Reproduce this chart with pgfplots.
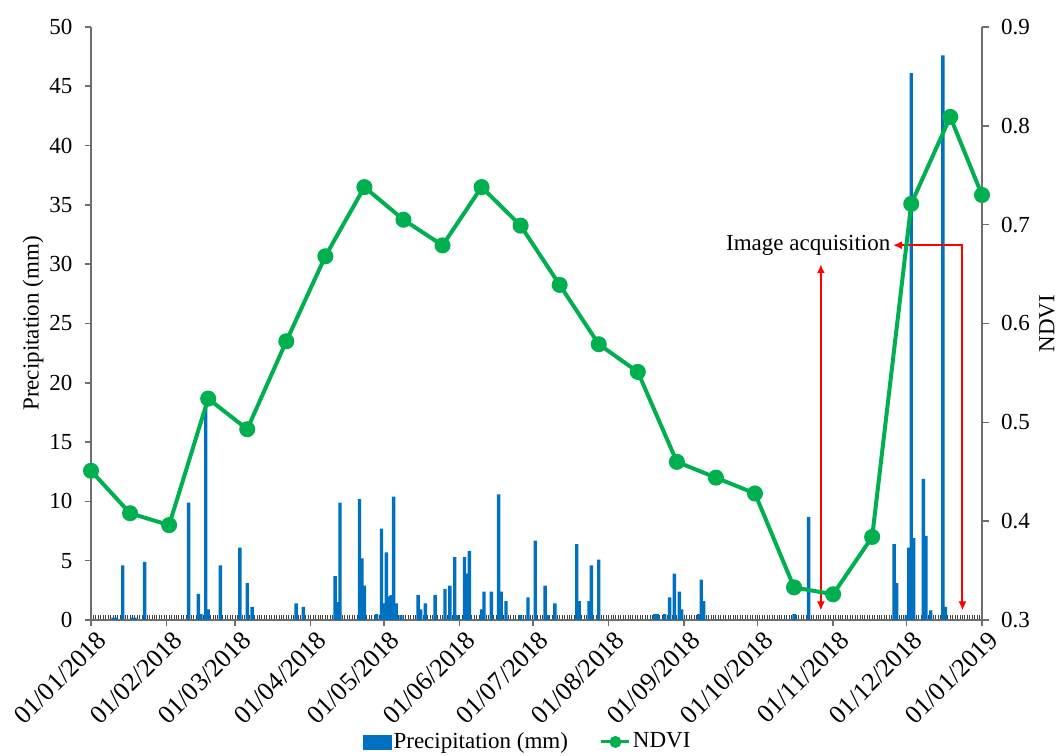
\documentclass[border=0pt]{standalone}
\usepackage{pgfplots}
\pgfplotsset{compat=1.18}
\usepackage{pgfplotstable}
\usepackage{fontspec}
\setmainfont{Liberation Serif}
\usetikzlibrary{arrows.meta}

\definecolor{rainblue}{RGB}{0,112,192}
\definecolor{ndvigreen}{RGB}{0,176,80}
\definecolor{axisgray}{RGB}{110,110,110}

% daily precipitation, x = day of year (0 = 01/01/2018)
\pgfplotstableread{
day mm
9   0.2
10  0.2
13  4.6
17  0.2
18  0.2
22  4.9
40  9.9
44  2.2
45  0.5
47  18.5
48  0.9
53  4.6
61  6.1
64  3.1
66  1.1
84  1.4
87  1.1
100 3.7
101 1.5
102 9.9
110 10.2
111 5.2
112 2.9
117 0.5
119 7.7
120 1.4
121 5.7
122 2.0
123 2.1
124 10.4
125 1.4
127 0.4
134 2.1
135 0.9
137 1.4
141 2.1
145 2.6
147 2.9
149 5.3
150 0.4
153 5.3
154 3.9
155 5.8
160 0.9
161 2.4
164 2.4
167 10.6
168 2.4
170 1.6
176 0.4
179 1.9
182 6.7
186 2.9
187 0.4
190 1.4
199 6.4
200 1.6
204 1.6
205 4.6
208 5.1
231 0.5
232 0.5
235 0.5
237 1.9
239 3.9
241 2.4
242 0.9
249 0.5
250 3.4
251 1.6
288 0.5
294 8.7
329 6.4
330 3.1
334 0.4
335 6.1
336 46.1
337 6.9
341 11.9
342 7.1
344 0.8
349 47.6
350 1.1
}\rain

% NDVI composites
\pgfplotstableread{
day ndvi
0   0.451
16  0.408
32  0.396
48  0.524
64  0.493
80  0.582
96  0.668
112 0.738
128 0.705
144 0.679
160 0.738
176 0.699
192 0.639
208 0.579
224 0.551
240 0.460
256 0.444
272 0.428
288 0.333
304 0.326
320 0.384
336 0.721
352 0.809
365 0.730
}\ndvi

\pgfplotsset{
  twin/.style={
    scale only axis, width=445.5pt, height=296.5pt,
    xmin=0, xmax=365,
    /pgf/number format/assume math mode=true,
    tick label style={font=\fontsize{11.5}{13}\selectfont},
    label style={font=\fontsize{11.5}{13}\selectfont},
    axis line style={axisgray, line width=0.8pt},
    tick style={axisgray, line width=0.8pt},
    major tick length=2.8pt,
    tick align=outside,
  }
}

\begin{document}
\begin{tikzpicture}
% daily hatch along the baseline
\begin{axis}[twin,
  hide y axis, axis x line*=bottom,
  axis line style={draw=none},
  ymin=0, ymax=1,
  xtick={0,...,365}, xticklabel=\empty,
  tick align=inside, major tick length=2.6pt,
  tick style={black!75, line width=0.45pt},
]
\end{axis}

% precipitation bars on the left axis
\begin{axis}[twin,
  axis y line*=left, axis x line*=bottom,
  ymin=0, ymax=50, ytick={0,5,...,50},
  yticklabel style={xshift=-3pt},
  xtick={0,31,59,90,120,151,181,212,243,273,304,334,365},
  xticklabels={01/01/2018,01/02/2018,01/03/2018,01/04/2018,01/05/2018,01/06/2018,01/07/2018,01/08/2018,01/09/2018,01/10/2018,01/11/2018,01/12/2018,01/01/2019},
  xticklabel style={rotate=45, anchor=north east, inner sep=1pt, xshift=1.5pt, yshift=-2pt,
    font=\fontsize{13}{15}\selectfont},
  ylabel={Precipitation (mm)},
  ylabel style={at={(axis description cs:-0.065,0.5)}, anchor=center},
]
\addplot[ybar, bar width=1.4, fill=rainblue, draw=none] table[x=day, y=mm] {\rain};
% acquisition dates
\node[anchor=east, inner sep=0.5pt, font=\fontsize{11.5}{13}\selectfont] at (axis cs:328,31.6) {Image acquisition};
\draw[red, line width=1pt, {Latex[length=4.5pt,width=4pt]}-{Latex[length=4.5pt,width=4pt]}]
  (axis cs:299,30.0) -- (axis cs:299,0.8);
\draw[red, line width=1pt, {Latex[length=4.5pt,width=4pt]}-{Latex[length=4.5pt,width=4pt]}]
  (axis cs:328.5,31.6) -- (axis cs:357,31.6) -- (axis cs:357,0.8);
\end{axis}

% NDVI on the right axis
\begin{axis}[twin,
  axis y line*=right, axis x line=none,
  major tick length=3.5pt,
  ymin=0.3, ymax=0.9, ytick={0.3,0.4,0.5,0.6,0.7,0.8,0.9},
  yticklabel style={xshift=2.5pt, /pgf/number format/.cd, fixed, fixed zerofill, precision=1},
  ylabel={NDVI},
  ylabel style={at={(axis description cs:1.073,0.5)}, anchor=center},
  legend style={at={(0.49,-0.2057)}, anchor=center, draw=none, fill=none,
    legend columns=2, font=\fontsize{11.5}{13}\selectfont,
    /tikz/every even column/.append style={column sep=15pt},
    inner sep=0pt, nodes={inner sep=1pt}},
]
\addlegendimage{legend image code/.code={\fill[rainblue] (-2pt,-3.5pt) rectangle (12pt,3.5pt);}}
\addlegendentry{Precipitation (mm)}
\addplot[ndvigreen, line width=2pt, mark=*, mark size=3pt,
  legend image code/.code={\draw[line width=1.5pt, mark size=2.2pt, mark repeat=2, mark phase=2] plot coordinates {(-2pt,0pt) (5pt,0pt) (12pt,0pt)};}]
  table[x=day, y=ndvi] {\ndvi};
\addlegendentry{NDVI}
\coordinate (bl) at (rel axis cs:0,0);
\coordinate (tr) at (rel axis cs:1,1);
\end{axis}

\pgfresetboundingbox
\path[use as bounding box] (bl) ++(-45.5pt,-68pt) rectangle ([shift={(39pt,13.5pt)}]tr);
\end{tikzpicture}
\end{document}
